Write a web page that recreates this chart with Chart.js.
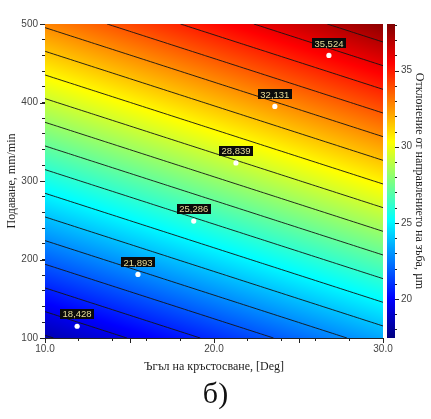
<!DOCTYPE html>
<html>
<head>
<meta charset="utf-8">
<script src="https://cdn.jsdelivr.net/npm/chart.js@4/dist/chart.umd.min.js"></script>
<style>
  html, body { margin: 0; padding: 0; background: #fff; }
  canvas { display: block; }
</style>
</head>
<body>
<canvas id="contourChart" width="431" height="419"></canvas>
<script>
// Response surface: deviation (µm) over crossing angle x feed
const angleGrid = [10, 15, 20, 25, 30];
const feedGrid = [100, 200, 300, 400, 500];
const devGrid = [
  [18.40, 19.65, 20.90, 22.15, 23.40],   // feed 100
  [22.00, 23.25, 24.50, 25.75, 27.00],   // feed 200
  [25.60, 26.85, 28.10, 29.35, 30.60],   // feed 300
  [29.20, 30.45, 31.70, 32.95, 34.20],   // feed 400
  [32.80, 34.05, 35.30, 36.55, 37.80]    // feed 500
];

// Labelled points
const pointAngle = [11.9, 15.5, 18.8, 21.3, 23.6, 26.8];
const pointFeed = [115, 181, 249, 323, 395, 460];
const pointDev = [18.428, 21.893, 25.286, 28.839, 32.131, 35.524];

// Axis ticks and colour scale
const xMajor = [10, 15, 20, 25, 30];
const yMajor = [100, 200, 300, 400, 500];
const cbMajor = [20, 25, 30, 35];
const cbMin = 17.44;
const cbMax = 38.06;
const contourCount = 19;

const clamp01 = v => Math.max(0, Math.min(1, v));
function jet(t) {
  t = clamp01(t);
  const r = clamp01(1.5 - Math.abs(4 * t - 3));
  const g = clamp01(1.5 - Math.abs(4 * t - 2));
  const b = clamp01(1.5 - Math.abs(4 * t - 1));
  return [Math.round(r * 255), Math.round(g * 255), Math.round(b * 255)];
}

function cellIndex(arr, v) {
  let i = 0;
  while (i < arr.length - 2 && v > arr[i + 1]) i++;
  return i;
}
function devAt(a, f) {
  const i = cellIndex(angleGrid, a), j = cellIndex(feedGrid, f);
  const tx = (a - angleGrid[i]) / (angleGrid[i + 1] - angleGrid[i]);
  const ty = (f - feedGrid[j]) / (feedGrid[j + 1] - feedGrid[j]);
  const v00 = devGrid[j][i], v10 = devGrid[j][i + 1];
  const v01 = devGrid[j + 1][i], v11 = devGrid[j + 1][i + 1];
  return (v00 * (1 - tx) + v10 * tx) * (1 - ty) + (v01 * (1 - tx) + v11 * tx) * ty;
}

const surfacePlugin = {
  id: 'surface',
  beforeDatasetsDraw(chart) {
    const { ctx, chartArea: ca, scales } = chart;
    const w = Math.round(ca.right - ca.left), h = Math.round(ca.bottom - ca.top);
    const off = document.createElement('canvas');
    off.width = w; off.height = h;
    const octx = off.getContext('2d');
    const img = octx.createImageData(w, h);
    for (let py = 0; py < h; py++) {
      const f = scales.y.getValueForPixel(ca.top + py + 0.5);
      for (let px = 0; px < w; px++) {
        const a = scales.x.getValueForPixel(ca.left + px + 0.5);
        const c = jet((devAt(a, f) - cbMin) / (cbMax - cbMin));
        const k = (py * w + px) * 4;
        img.data[k] = c[0]; img.data[k + 1] = c[1]; img.data[k + 2] = c[2]; img.data[k + 3] = 255;
      }
    }
    octx.putImageData(img, 0, 0);
    ctx.drawImage(off, ca.left, ca.top);

    // contour lines (marching squares on a fine sample grid)
    const N = 80;
    const a0 = angleGrid[0], a1 = angleGrid[angleGrid.length - 1];
    const f0 = feedGrid[0], f1 = feedGrid[feedGrid.length - 1];
    const A = [], F = [], V = [];
    for (let i = 0; i <= N; i++) { A.push(a0 + (a1 - a0) * i / N); F.push(f0 + (f1 - f0) * i / N); }
    for (let j = 0; j <= N; j++) { V.push(A.map(a => devAt(a, F[j]))); }
    ctx.save();
    ctx.beginPath();
    ctx.rect(ca.left, ca.top, ca.right - ca.left, ca.bottom - ca.top);
    ctx.clip();
    ctx.strokeStyle = 'rgba(20,20,20,0.9)';
    ctx.lineWidth = 1;
    ctx.beginPath();
    const step = (cbMax - cbMin) / contourCount;
    for (let k = 1; k < contourCount; k++) {
      const lev = cbMin + k * step;
      for (let j = 0; j < N; j++) {
        for (let i = 0; i < N; i++) {
          const corners = [
            [A[i], F[j], V[j][i]], [A[i + 1], F[j], V[j][i + 1]],
            [A[i + 1], F[j + 1], V[j + 1][i + 1]], [A[i], F[j + 1], V[j + 1][i]]
          ];
          const pts = [];
          for (let e = 0; e < 4; e++) {
            const p = corners[e], q = corners[(e + 1) % 4];
            if ((p[2] - lev) * (q[2] - lev) < 0) {
              const t = (lev - p[2]) / (q[2] - p[2]);
              pts.push([p[0] + (q[0] - p[0]) * t, p[1] + (q[1] - p[1]) * t]);
            }
          }
          for (let s = 0; s + 1 < pts.length; s += 2) {
            ctx.moveTo(scales.x.getPixelForValue(pts[s][0]), scales.y.getPixelForValue(pts[s][1]));
            ctx.lineTo(scales.x.getPixelForValue(pts[s + 1][0]), scales.y.getPixelForValue(pts[s + 1][1]));
          }
        }
      }
    }
    ctx.stroke();
    ctx.restore();
  },
  afterDatasetsDraw(chart) {
    const { ctx, scales } = chart;
    ctx.save();
    ctx.font = "9.5px 'Liberation Sans Narrow', 'Liberation Sans', sans-serif";
    ctx.textAlign = 'center';
    ctx.textBaseline = 'middle';
    chart.data.datasets[0].data.forEach(p => {
      const px = scales.x.getPixelForValue(p.x), py = scales.y.getPixelForValue(p.y);
      const txt = p.v.toFixed(3).replace('.', ',');
      const tw = ctx.measureText(txt).width + 5;
      ctx.fillStyle = '#0b0b0b';
      ctx.fillRect(Math.round(px - tw / 2), Math.round(py - 17), Math.round(tw), 10);
      ctx.fillStyle = '#e6dc98';
      ctx.fillText(txt, px, py - 11.5);
    });
    ctx.restore();
  },
  afterDraw(chart) {
    const { ctx, chartArea: ca, scales } = chart;
    ctx.save();
    ctx.strokeStyle = '#222';
    ctx.lineWidth = 1;
    ctx.beginPath();
    // longer major ticks
    xMajor.forEach(v => {
      const x = Math.round(scales.x.getPixelForValue(v)) + 0.5;
      ctx.moveTo(x, ca.bottom); ctx.lineTo(x, ca.bottom + 5);
    });
    yMajor.forEach(v => {
      const y = Math.round(scales.y.getPixelForValue(v)) + 0.5;
      ctx.moveTo(ca.left, y); ctx.lineTo(ca.left - 5, y);
    });
    ctx.stroke();

    // colour bar
    const cb = scales.cb;
    const bx = ca.right + 4, bw = 8;
    for (let y = Math.round(cb.top); y < Math.round(cb.bottom); y++) {
      const c = jet((cb.getValueForPixel(y + 0.5) - cbMin) / (cbMax - cbMin));
      ctx.fillStyle = `rgb(${c[0]},${c[1]},${c[2]})`;
      ctx.fillRect(bx, y, bw, 1);
    }
    ctx.beginPath();
    for (let v = Math.ceil(cbMin); v <= cbMax; v++) {
      const y = Math.round(cb.getPixelForValue(v)) + 0.5;
      const len = cbMajor.includes(v) ? 4 : 2;
      ctx.moveTo(bx + bw, y); ctx.lineTo(bx + bw + len, y);
    }
    ctx.stroke();
    ctx.restore();
  }
};

const tickFont = { family: "'Liberation Sans Narrow', 'Liberation Sans', sans-serif", size: 10 };
const titleFont = { family: "'Liberation Serif', 'Times New Roman', serif", size: 12 };

new Chart(document.getElementById('contourChart'), {
  type: 'scatter',
  data: {
    datasets: [{
      data: pointAngle.map((a, i) => ({ x: a, y: pointFeed[i], v: pointDev[i] })),
      pointRadius: 2.6,
      pointBackgroundColor: '#ffffff',
      pointBorderWidth: 0
    }]
  },
  options: {
    responsive: false,
    animation: false,
    devicePixelRatio: 1,
    layout: { padding: { top: 7, left: 0, right: 0, bottom: 0 } },
    plugins: {
      legend: { display: false },
      tooltip: { enabled: false },
      title: {
        display: true,
        position: 'bottom',
        text: 'б)',
        color: '#111',
        font: { family: "'Liberation Serif', 'Times New Roman', serif", size: 30, weight: 'normal', lineHeight: 1 },
        padding: { top: 0, bottom: 9 }
      }
    },
    scales: {
      x: {
        type: 'linear', min: 10, max: 30,
        afterFit: s => { s.height = 42; },
        border: { display: true, color: '#222' },
        grid: { drawOnChartArea: false, color: '#222', tickLength: 3 },
        ticks: {
          stepSize: 1, padding: 2, color: '#444', font: tickFont, maxRotation: 0,
          callback: v => xMajor.includes(v) ? v.toFixed(1) : ''
        },
        title: { display: true, text: 'Ъгъл на кръстосване, [Deg]', color: '#222', font: titleFont, padding: { top: 0, bottom: 6 } }
      },
      y: {
        type: 'linear', min: 100, max: 500,
        afterFit: s => { s.width = 45; },
        border: { display: true, color: '#222' },
        grid: { drawOnChartArea: false, color: '#222', tickLength: 3 },
        ticks: {
          stepSize: 20, padding: 4, color: '#444', font: tickFont,
          callback: v => yMajor.includes(v) ? String(v) : ''
        },
        title: { display: true, text: 'Подаване, mm/min', color: '#222', font: titleFont, padding: { top: 5, bottom: 0 } }
      },
      cb: {
        type: 'linear', position: 'right', min: cbMin, max: cbMax,
        afterFit: s => { s.width = 48; },
        border: { display: false },
        grid: { display: false, drawTicks: false },
        ticks: {
          stepSize: 5, includeBounds: false, padding: 18, color: '#444', font: tickFont,
          callback: v => cbMajor.includes(v) ? String(v) : ''
        },
        title: { display: true, text: 'Отклонение от направлението на зъба, µm', color: '#222', font: titleFont, padding: { top: 5, bottom: 0 } }
      }
    }
  },
  plugins: [surfacePlugin]
});
</script>
</body>
</html>
